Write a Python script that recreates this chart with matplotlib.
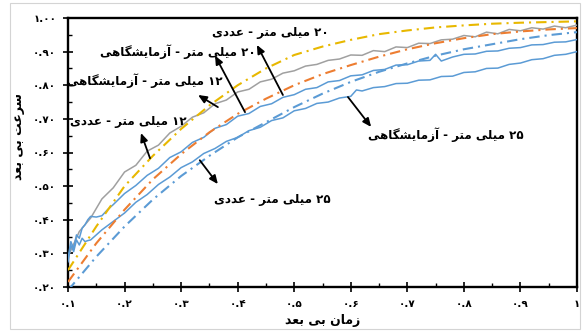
import matplotlib
matplotlib.use("Agg")
import matplotlib.pyplot as plt
from matplotlib import font_manager
from matplotlib.font_manager import FontProperties
from matplotlib.ft2font import FT2Font
from matplotlib.ticker import FixedLocator, FuncFormatter, MultipleLocator
from matplotlib.patches import Rectangle

# ---------------- data ----------------
t_num = [0.10, 0.15, 0.20, 0.25, 0.30, 0.35, 0.40, 0.45, 0.50, 0.55,
         0.60, 0.65, 0.70, 0.75, 0.80, 0.85, 0.90, 0.95, 1.00]
num_12 = [0.25, 0.38, 0.50, 0.59, 0.67, 0.74, 0.80, 0.85, 0.89, 0.915,
          0.935, 0.952, 0.963, 0.972, 0.978, 0.983, 0.986, 0.988, 0.99]
num_20 = [0.215, 0.33, 0.43, 0.52, 0.595, 0.66, 0.715, 0.76, 0.80, 0.833,
          0.86, 0.885, 0.907, 0.925, 0.94, 0.952, 0.96, 0.966, 0.97]
num_25 = [0.19, 0.29, 0.38, 0.46, 0.53, 0.59, 0.645, 0.69, 0.735, 0.775,
          0.81, 0.84, 0.865, 0.888, 0.907, 0.922, 0.937, 0.949, 0.958]

t_exp12 = [0.10, 0.12, 0.14, 0.16, 0.18, 0.20, 0.22, 0.24, 0.26, 0.28,
           0.30, 0.32, 0.34, 0.36, 0.38, 0.40, 0.42, 0.44, 0.46, 0.48,
           0.50, 0.52, 0.54, 0.56, 0.58, 0.60, 0.62, 0.64, 0.66, 0.68,
           0.70, 0.72, 0.74, 0.76, 0.78, 0.80, 0.82, 0.84, 0.86, 0.88,
           0.90, 0.92, 0.94, 0.96, 0.98, 1.00]
exp_12 = [0.290, 0.365, 0.405, 0.462, 0.495, 0.542, 0.562, 0.604, 0.622, 0.658,
          0.678, 0.705, 0.718, 0.745, 0.756, 0.780, 0.788, 0.810, 0.818, 0.836,
          0.843, 0.857, 0.862, 0.874, 0.878, 0.890, 0.889, 0.903, 0.900, 0.914,
          0.912, 0.925, 0.924, 0.935, 0.937, 0.948, 0.944, 0.958, 0.953, 0.966,
          0.962, 0.971, 0.967, 0.976, 0.971, 0.979]

t_exp20 = [0.100, 0.105, 0.110, 0.115, 0.120, 0.125, 0.130, 0.135, 0.14, 0.15,
           0.16, 0.17, 0.18, 0.20, 0.22, 0.24, 0.26, 0.28, 0.30, 0.32,
           0.34, 0.36, 0.38, 0.40, 0.42, 0.44, 0.46, 0.48, 0.50, 0.52,
           0.54, 0.56, 0.58, 0.60, 0.62, 0.64, 0.66, 0.68, 0.70, 0.72,
           0.74, 0.75, 0.76, 0.78, 0.80, 0.82, 0.84, 0.86, 0.88, 0.90,
           0.92, 0.94, 0.96, 0.98, 1.00]
exp_20 = [0.285, 0.335, 0.315, 0.355, 0.345, 0.375, 0.385, 0.400, 0.410, 0.408,
          0.412, 0.430, 0.445, 0.478, 0.502, 0.532, 0.553, 0.585, 0.602, 0.630,
          0.645, 0.672, 0.683, 0.708, 0.716, 0.737, 0.745, 0.764, 0.772, 0.788,
          0.793, 0.810, 0.814, 0.828, 0.831, 0.844, 0.847, 0.860, 0.861, 0.872,
          0.874, 0.892, 0.872, 0.884, 0.892, 0.893, 0.901, 0.902, 0.910, 0.912,
          0.920, 0.921, 0.928, 0.929, 0.936]

t_exp25 = [0.100, 0.105, 0.110, 0.115, 0.120, 0.125, 0.130, 0.135, 0.14, 0.15,
           0.16, 0.18, 0.20, 0.22, 0.24, 0.26, 0.28, 0.30, 0.32, 0.34,
           0.36, 0.38, 0.40, 0.42, 0.44, 0.46, 0.48, 0.50, 0.52, 0.54,
           0.56, 0.58, 0.60, 0.61, 0.62, 0.64, 0.66, 0.68, 0.70, 0.72,
           0.74, 0.76, 0.78, 0.80, 0.82, 0.84, 0.86, 0.88, 0.90, 0.92,
           0.94, 0.96, 0.98, 1.00]
exp_25 = [0.275, 0.325, 0.305, 0.340, 0.325, 0.345, 0.335, 0.338, 0.340, 0.355,
          0.370, 0.395, 0.420, 0.452, 0.475, 0.505, 0.527, 0.555, 0.572, 0.597,
          0.612, 0.633, 0.645, 0.665, 0.675, 0.695, 0.703, 0.724, 0.731, 0.746,
          0.750, 0.762, 0.767, 0.786, 0.783, 0.793, 0.796, 0.805, 0.806, 0.815,
          0.816, 0.826, 0.827, 0.838, 0.840, 0.850, 0.851, 0.862, 0.866, 0.876,
          0.879, 0.889, 0.892, 0.900]

x_ticks = [0.1, 0.2, 0.3, 0.4, 0.5, 0.6, 0.7, 0.8, 0.9, 1.0]
y_ticks = [0.2, 0.3, 0.4, 0.5, 0.6, 0.7, 0.8, 0.9, 1.0]

x_label = "زمان بی بعد"
y_label = "سرعت بی بعد"
labels = {
    "n20": "۲۰ میلی متر - عددی",
    "e20": "۲۰ میلی متر - آزمایشگاهی",
    "e12": "۱۲ میلی متر - آزمایشگاهی",
    "n12": "۱۲ میلی متر - عددی",
    "e25": "۲۵ میلی متر - آزمایشگاهی",
    "n25": "۲۵ میلی متر - عددی",
}

# ---------------- Persian shaping (matplotlib has no shaping) ----------------
FAM = "DejaVu Sans"
_path = font_manager.findfont(FontProperties(family=FAM, weight="bold"))
_ft = FT2Font(_path)


def _has(cp):
    try:
        return _ft.get_char_index(cp) != 0
    except Exception:
        return False


FORMS = {
    0x0627: (0xFE8D, 0xFE8E, None, None),
    0x0622: (0xFE81, 0xFE82, None, None),
    0x062F: (0xFEA9, 0xFEAA, None, None),
    0x0631: (0xFEAD, 0xFEAE, None, None),
    0x0632: (0xFEAF, 0xFEB0, None, None),
    0x0628: (0xFE8F, 0xFE90, 0xFE91, 0xFE92),
    0x062A: (0xFE95, 0xFE96, 0xFE97, 0xFE98),
    0x0633: (0xFEB1, 0xFEB2, 0xFEB3, 0xFEB4),
    0x0634: (0xFEB5, 0xFEB6, 0xFEB7, 0xFEB8),
    0x0639: (0xFEC9, 0xFECA, 0xFECB, 0xFECC),
    0x0644: (0xFEDD, 0xFEDE, 0xFEDF, 0xFEE0),
    0x0645: (0xFEE1, 0xFEE2, 0xFEE3, 0xFEE4),
    0x0646: (0xFEE5, 0xFEE6, 0xFEE7, 0xFEE8),
    0x0647: (0xFEE9, 0xFEEA, 0xFEEB, 0xFEEC),
    0x06CC: (0xFBFC, 0xFBFD, 0xFBFE, 0xFBFF),
    0x06AF: (0xFB92, 0xFB93, 0xFB94, 0xFB95),
}
if not all(_has(c) for c in FORMS[0x06CC]):
    FORMS[0x06CC] = (0xFEEF, 0xFEF0, 0xFEF3, 0xFEF4)
if not all(_has(c) for c in FORMS[0x06AF]):
    FORMS[0x06AF] = (0xFED9, 0xFEDA, 0xFEDB, 0xFEDC)
RIGHT_ONLY = {0x0627, 0x0622, 0x062F, 0x0631, 0x0632}
DIGITS = set("0123456789۰۱۲۳۴۵۶۷۸۹.")


def fa(s):
    chars = list(s)
    out = []
    for i, c in enumerate(chars):
        cp = ord(c)
        if cp not in FORMS:
            out.append(c)
            continue
        prev = chars[i - 1] if i > 0 else None
        nxt = chars[i + 1] if i + 1 < len(chars) else None
        jp = prev is not None and ord(prev) in FORMS and ord(prev) not in RIGHT_ONLY
        jn = nxt is not None and ord(nxt) in FORMS and cp not in RIGHT_ONLY
        iso, fin, ini, med = FORMS[cp]
        if jp and jn:
            g = med
        elif jp:
            g = fin
        elif jn:
            g = ini
        else:
            g = iso
        out.append(chr(g))
    runs = []
    for c in out:
        isd = c in DIGITS
        if runs and runs[-1][0] == isd:
            runs[-1][1].append(c)
        else:
            runs.append([isd, [c]])
    res = []
    for isd, cs in reversed(runs):
        res.append("".join(cs) if isd else "".join(reversed(cs)))
    return "".join(res)


PD = str.maketrans("0123456789", "۰۱۲۳۴۵۶۷۸۹")

# ---------------- figure ----------------
plt.rcParams["font.family"] = [FAM]
fig = plt.figure(figsize=(5.82, 3.31), dpi=100)
fig.patches.append(Rectangle((10 / 582, 2 / 331), 570 / 582, 326 / 331,
                             transform=fig.transFigure, fill=False,
                             edgecolor="#d4d4d4", linewidth=0.8))
ax = fig.add_axes([68 / 582, 44 / 331, 509 / 582, 269 / 331])

C_GOLD = "#E8B800"
C_ORANGE = "#ED7D31"
C_GRAY = "#A0A0A0"
C_BLUE = "#5B9BD5"

dd = (5, 2.4, 1, 2.4)
ax.plot(t_exp12, exp_12, color=C_GRAY, lw=1.1, zorder=3)
ax.plot(t_exp20, exp_20, color=C_BLUE, lw=1.1, zorder=3)
ax.plot(t_exp25, exp_25, color=C_BLUE, lw=1.1, zorder=3)
ax.plot(t_num, num_12, color=C_GOLD, lw=1.5, dashes=dd, zorder=4)
ax.plot(t_num, num_20, color=C_ORANGE, lw=1.5, dashes=dd, zorder=4)
ax.plot(t_num, num_25, color=C_BLUE, lw=1.5, dashes=dd, zorder=4)

ax.set_xlim(0.1, 1.0)
ax.set_ylim(0.2, 1.0)
ax.xaxis.set_major_locator(FixedLocator(x_ticks))
ax.yaxis.set_major_locator(FixedLocator(y_ticks))
ax.xaxis.set_minor_locator(MultipleLocator(0.05))
ax.yaxis.set_minor_locator(MultipleLocator(0.05))
ax.xaxis.set_major_formatter(FuncFormatter(
    lambda v, p: ("1" if abs(v - 1) < 1e-9 else f"{v:.1f}").translate(PD)))
ax.yaxis.set_major_formatter(FuncFormatter(lambda v, p: f"{v:.2f}".translate(PD)))

for s in ax.spines.values():
    s.set_linewidth(1.7)
ax.tick_params(which="major", direction="inout", length=7, width=1.2,
               labelsize=7.5, pad=5)
ax.tick_params(which="minor", direction="in", length=3, width=1.0)
for lab in ax.get_xticklabels() + ax.get_yticklabels():
    lab.set_fontweight("bold")

ax.set_xlabel(fa(x_label), fontsize=9, fontweight="bold", labelpad=4)
ax.set_ylabel(fa(y_label), fontsize=9, fontweight="bold", labelpad=6)
ax.yaxis.set_label_coords(-0.085, 0.56)

ann = [
    ("n20", (0.458, 0.958), (0.434, 0.920), (0.480, 0.771)),
    ("e20", (0.294, 0.899), (0.360, 0.888), (0.413, 0.720)),
    ("e12", (0.236, 0.813), (0.330, 0.771), (0.365, 0.735)),
    ("n12", (0.207, 0.693), (0.229, 0.658), (0.245, 0.583)),
    ("e25", (0.768, 0.652), (0.636, 0.676), (0.595, 0.765)),
    ("n25", (0.461, 0.461), (0.365, 0.506), (0.333, 0.577)),
]
for key, tpos, head, tail in ann:
    ax.text(tpos[0], tpos[1], fa(labels[key]), ha="center", va="center",
            fontsize=8.6, fontweight="bold", zorder=6)
    ax.annotate("", xy=head, xytext=tail,
                arrowprops=dict(arrowstyle="-|>,head_length=0.5,head_width=0.22",
                                color="black", lw=1.3, shrinkA=0, shrinkB=0),
                zorder=6)

fig.savefig("out.png", dpi=100)
